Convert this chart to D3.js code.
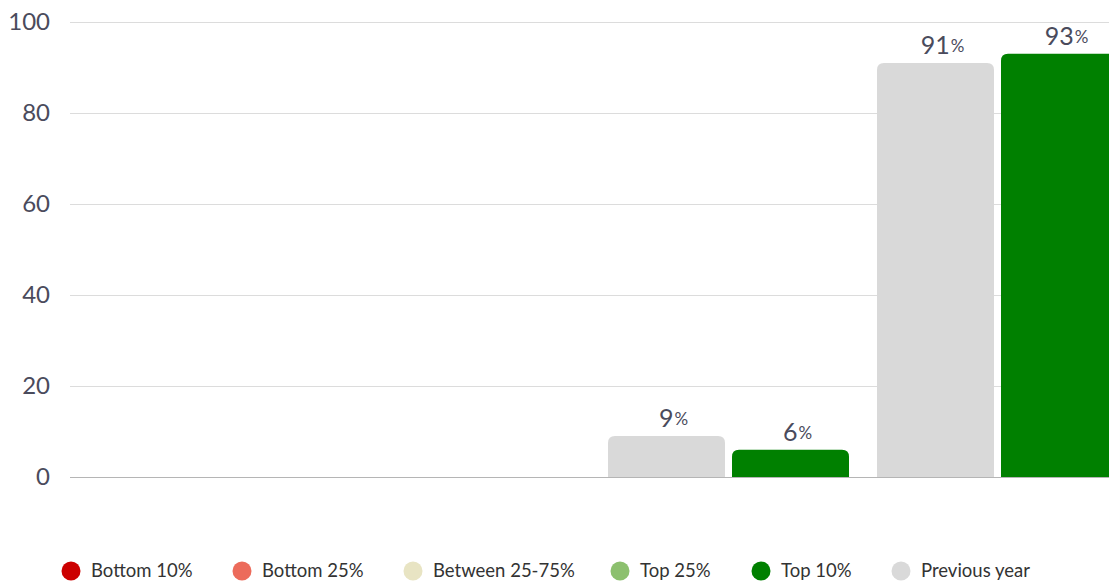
<!DOCTYPE html>
<html>
<head>
<meta charset="utf-8">
<script src="https://cdn.jsdelivr.net/npm/d3@7"></script>
<style>
  body { margin: 0; background: #fff; }
  svg { display: block; font-family: Lato, "Open Sans", sans-serif; }
</style>
</head>
<body>
<div id="chart"></div>
<script>
var svgWidth = 1109;
var svgHeight = 582;

// chart data
var categories = ["Q1", "Q2", "Q3", "Q4"];
var previousYear = [null, null, 9, 91];
var currentYear = [null, null, 6, 93];
var currentBand = [null, null, "Top 10%", "Top 10%"];
var yTicks = [0, 20, 40, 60, 80, 100];

var legendNames = ["Bottom 10%", "Bottom 25%", "Between 25-75%", "Top 25%", "Top 10%", "Previous year"];
var legendColors = ["#cc0000", "#ec6b5b", "#e8e4c3", "#8cc06e", "#008000", "#d9d9d9"];

var colorOf = d3.scaleOrdinal().domain(legendNames).range(legendColors);

var margin = { top: 22, right: 0, bottom: 105, left: 70 };
var height = svgHeight - margin.top - margin.bottom;

var svg = d3.select("#chart")
  .append("svg")
  .attr("width", svgWidth)
  .attr("height", svgHeight);

var chartGroup = svg.append("g")
  .attr("transform", `translate(${margin.left},${margin.top})`);

var yScale = d3.scaleLinear().domain([0, 100]).range([height, 0]);

var xScale = d3.scaleBand()
  .domain(categories)
  .range([0, 1048])
  .paddingInner(28 / 269)
  .paddingOuter(0);

var xInner = d3.scaleBand()
  .domain(["prev", "curr"])
  .range([0, xScale.bandwidth()])
  .paddingInner(7 / 124);

// gridlines
chartGroup.append("g")
  .selectAll("line")
  .data(yTicks)
  .enter()
  .append("line")
  .attr("x1", 0)
  .attr("x2", svgWidth)
  .attr("y1", d => Math.round(yScale(d)) + 0.5)
  .attr("y2", d => Math.round(yScale(d)) + 0.5)
  .attr("stroke", d => d === 0 ? "#b5b5b5" : "#dcdcdc")
  .attr("stroke-width", 1);

// y axis labels
var leftAxis = d3.axisLeft(yScale).tickValues(yTicks).tickSize(0).tickPadding(20);
var yAxis = chartGroup.append("g").call(leftAxis);
yAxis.select(".domain").remove();
yAxis.selectAll("text")
  .attr("font-size", "24px")
  .attr("font-family", "Lato, sans-serif")
  .attr("fill", "#4a4b5c");

function topRounded(x, y, w, h, r) {
  r = Math.min(r, h, w / 2);
  return `M${x},${y + h}V${y + r}Q${x},${y} ${x + r},${y}H${x + w - r}Q${x + w},${y} ${x + w},${y + r}V${y + h}Z`;
}

var bars = [];
categories.forEach(function(c, i) {
  if (previousYear[i] != null) bars.push({ cat: c, key: "prev", value: previousYear[i], color: colorOf("Previous year") });
  if (currentYear[i] != null) bars.push({ cat: c, key: "curr", value: currentYear[i], color: colorOf(currentBand[i]) });
});

chartGroup.append("g")
  .selectAll("path")
  .data(bars)
  .enter()
  .append("path")
  .attr("d", d => topRounded(xScale(d.cat) + xInner(d.key), yScale(d.value), xInner.bandwidth(), height - yScale(d.value), 7))
  .attr("fill", d => d.color);

var labels = chartGroup.append("g")
  .selectAll("text")
  .data(bars)
  .enter()
  .append("text")
  .attr("x", d => xScale(d.cat) + xInner(d.key) + xInner.bandwidth() / 2 + 7)
  .attr("y", d => yScale(d.value) - 9)
  .attr("text-anchor", "middle")
  .attr("fill", "#4a4b5c");

labels.append("tspan")
  .attr("font-size", "25px")
  .text(d => d.value);
labels.append("tspan")
  .attr("font-size", "17px")
  .attr("dx", 1)
  .attr("dy", -2)
  .text("%");

// legend
var legendX = [71, 242, 413, 620, 761, 901];
var legend = svg.append("g")
  .selectAll("g")
  .data(legendNames)
  .enter()
  .append("g")
  .attr("transform", (d, i) => `translate(${legendX[i]},571)`);

legend.append("circle")
  .attr("r", 9.5)
  .attr("fill", d => colorOf(d));

legend.append("text")
  .attr("x", 20)
  .attr("y", 6)
  .attr("font-size", "18.5px")
  .attr("fill", "#333")
  .text(d => d);
</script>
</body>
</html>
